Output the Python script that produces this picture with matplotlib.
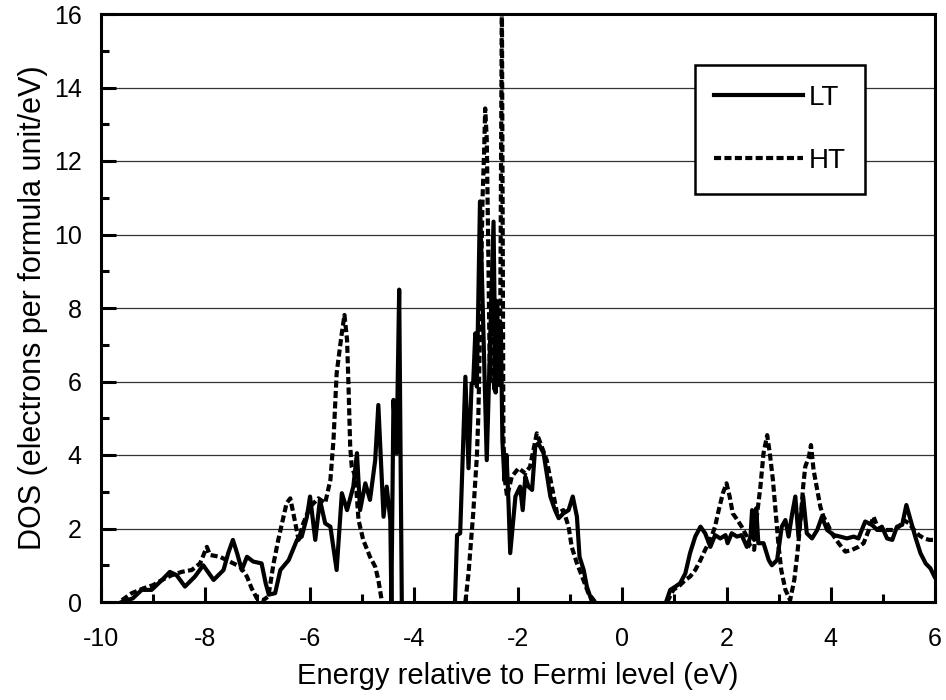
import numpy as np
import matplotlib
matplotlib.use("Agg")
import matplotlib.pyplot as plt
from matplotlib.ticker import MultipleLocator

# LT phase, energy (eV) and DOS
lt_energy = [-9.60, -9.39, -9.22, -9.03, -8.83, -8.68, -8.55, -8.39, -8.20, -8.04,
             -7.84, -7.65, -7.56, -7.47, -7.39, -7.30, -7.20, -7.08, -6.92, -6.84,
             -6.78, -6.66, -6.56, -6.40, -6.24, -6.15, -6.05, -5.99, -5.89, -5.80,
             -5.70, -5.60, -5.48, -5.38, -5.28, -5.16, -5.09, -5.03, -4.93, -4.84,
             -4.74, -4.68, -4.58, -4.52, -4.45, -4.43, -4.39, -4.33, -4.28, -4.23,
             -3.21, -3.17, -3.11, -3.01, -2.95, -2.89, -2.86, -2.82, -2.79, -2.73,
             -2.60, -2.47, -2.43, -2.40, -2.36, -2.33, -2.30, -2.26, -2.22, -2.18,
             -2.15, -2.05, -1.96, -1.91, -1.86, -1.80, -1.73, -1.67, -1.61, -1.51,
             -1.38, -1.29, -1.22, -1.13, -1.03, -0.95, -0.87, -0.82, -0.74, -0.68,
             -0.58, 0.84, 0.92, 1.02, 1.11, 1.21, 1.30, 1.40, 1.50, 1.59,
             1.69, 1.78, 1.88, 1.98, 2.02, 2.10, 2.20, 2.29, 2.39, 2.46,
             2.49, 2.53, 2.57, 2.61, 2.71, 2.81, 2.87, 2.97, 3.06, 3.13,
             3.19, 3.26, 3.32, 3.38, 3.47, 3.54, 3.64, 3.74, 3.83, 3.93,
             4.06, 4.18, 4.31, 4.44, 4.53, 4.66, 4.79, 4.89, 4.98, 5.08,
             5.18, 5.27, 5.37, 5.45, 5.53, 5.62, 5.72, 5.82, 5.91, 5.99]
lt_dos = [0.00, 0.10, 0.33, 0.33, 0.60, 0.82, 0.73, 0.42, 0.69, 1.00,
          0.60, 0.87, 1.33, 1.69, 1.33, 0.87, 1.23, 1.10, 1.05, 0.50,
          0.20, 0.24, 0.87, 1.14, 1.69, 1.78, 2.32, 2.87, 1.69, 2.78,
          2.14, 2.05, 0.87, 2.96, 2.50, 3.14, 4.05, 2.50, 3.23, 2.78,
          3.86, 5.36, 2.32, 3.14, 2.23, 0.00, 5.50, 4.05, 8.50, 0.00,
          0.00, 1.82, 1.87, 6.13, 3.64, 5.95, 5.96, 7.31, 5.86, 10.90,
          3.86, 10.35, 5.70, 8.10, 5.90, 7.60, 4.40, 3.30, 4.00, 2.60,
          1.33, 2.87, 3.14, 2.50, 3.41, 3.14, 3.05, 4.23, 4.32, 4.05,
          2.87, 2.50, 2.28, 2.41, 2.50, 2.87, 2.32, 1.23, 0.87, 0.42,
          0.00, 0.00, 0.33, 0.42, 0.51, 0.78, 1.33, 1.78, 2.05, 1.87,
          1.50, 1.82, 1.73, 1.82, 1.60, 1.87, 1.78, 1.82, 1.50, 1.78,
          2.50, 1.69, 2.55, 1.60, 1.60, 1.14, 1.00, 1.14, 2.05, 2.23,
          1.78, 2.41, 2.87, 1.78, 2.87, 1.87, 1.73, 1.96, 2.32, 1.96,
          1.82, 1.78, 1.73, 1.78, 1.73, 2.19, 2.10, 1.96, 2.05, 1.73,
          1.69, 2.05, 2.10, 2.64, 2.23, 1.78, 1.33, 1.05, 0.92, 0.69]

# HT phase
ht_energy = [-9.60, -9.41, -9.19, -9.00, -8.83, -8.64, -8.45, -8.26, -8.10, -7.97,
             -7.91, -7.72, -7.59, -7.33, -7.20, -7.11, -7.01, -6.89, -6.79, -6.69,
             -6.60, -6.50, -6.44, -6.37, -6.31, -6.21, -6.12, -5.99, -5.83, -5.70,
             -5.60, -5.54, -5.48, -5.39, -5.33, -5.28, -5.25, -5.22, -5.19, -5.12,
             -5.06, -4.97, -4.84, -4.74, -4.68, -4.61, -3.01, -2.95, -2.86, -2.79,
             -2.76, -2.72, -2.68, -2.65, -2.63, -2.60, -2.57, -2.54, -2.50, -2.46,
             -2.42, -2.38, -2.34, -2.31, -2.28, -2.25, -2.21, -2.12, -1.99, -1.86,
             -1.77, -1.64, -1.57, -1.45, -1.35, -1.25, -1.13, -1.03, -0.97, -0.87,
             -0.77, -0.65, -0.52, 0.86, 0.98, 1.11, 1.21, 1.30, 1.40, 1.50,
             1.59, 1.69, 1.78, 1.85, 1.93, 2.00, 2.06, 2.12, 2.21, 2.29,
             2.39, 2.46, 2.53, 2.58, 2.65, 2.71, 2.78, 2.83, 2.89, 2.94,
             3.00, 3.05, 3.13, 3.22, 3.30, 3.36, 3.42, 3.47, 3.51, 3.58,
             3.62, 3.67, 3.74, 3.80, 3.86, 3.93, 4.02, 4.15, 4.28, 4.41,
             4.53, 4.63, 4.73, 4.82, 4.92, 5.02, 5.11, 5.21, 5.31, 5.40,
             5.50, 5.60, 5.69, 5.79, 5.89, 5.98]
ht_dos = [0.05, 0.24, 0.37, 0.46, 0.60, 0.73, 0.82, 0.87, 1.05, 1.50,
          1.28, 1.23, 1.14, 0.96, 0.69, 0.37, 0.10, 0.05, 0.15, 1.05,
          1.69, 2.32, 2.69, 2.82, 2.41, 1.69, 2.14, 2.59, 2.82, 2.69,
          3.32, 4.41, 6.22, 7.22, 7.81, 7.13, 5.77, 4.23, 3.68, 3.41,
          2.23, 1.69, 1.23, 0.96, 0.60, 0.00, 0.00, 0.78, 2.41, 3.95,
          5.13, 8.00, 11.00, 12.30, 13.43, 12.60, 9.50, 6.00, 8.50, 5.80,
          8.20, 6.50, 8.00, 16.50, 4.40, 3.30, 2.87, 3.41, 3.64, 3.50,
          3.68, 4.59, 4.32, 3.86, 3.14, 2.41, 2.50, 2.05, 1.50, 1.05,
          0.69, 0.24, 0.00, 0.00, 0.33, 0.46, 0.60, 0.69, 0.87, 1.14,
          1.42, 1.69, 2.05, 2.50, 2.96, 3.23, 2.87, 2.41, 2.23, 2.05,
          1.78, 1.50, 1.42, 2.32, 3.14, 4.05, 4.54, 4.05, 3.32, 2.50,
          1.50, 0.87, 0.33, 0.05, 0.60, 1.33, 2.23, 3.14, 3.68, 3.95,
          4.27, 3.59, 3.05, 2.59, 2.32, 2.14, 1.87, 1.60, 1.37, 1.42,
          1.50, 1.60, 1.96, 2.32, 1.96, 1.96, 1.96, 1.96, 2.05, 2.23,
          2.14, 1.96, 1.82, 1.73, 1.69, 1.69]

labels = ["LT", "HT"]


def break_flat(x, y):
    # no line along the axis where the DOS stays at zero
    xs, ys = [x[0]], [y[0]]
    for i in range(1, len(x)):
        if y[i] == 0 and y[i - 1] == 0:
            xs.append(np.nan)
            ys.append(np.nan)
        xs.append(x[i])
        ys.append(y[i])
    return np.array(xs), np.array(ys)


plt.rcParams["font.family"] = ["Liberation Sans", "DejaVu Sans"]
plt.rcParams["axes.unicode_minus"] = False

fig = plt.figure(figsize=(9.46, 7.0), dpi=100)
ax = fig.add_axes([0.1068, 0.14, 0.8816, 0.84])

x, y = break_flat(lt_energy, lt_dos)
ax.plot(x, y, color="black", lw=3.0, label=labels[0], zorder=3)
x, y = break_flat(ht_energy, ht_dos)
ax.plot(x, y, color="black", lw=3.0, linestyle=(0, (1.7, 0.8)),
        label=labels[1], zorder=3)

ax.set_xlim(-10, 6)
ax.set_ylim(0, 16)
ax.xaxis.set_major_locator(MultipleLocator(2))
ax.xaxis.set_minor_locator(MultipleLocator(1))
ax.yaxis.set_major_locator(MultipleLocator(2))
ax.yaxis.set_minor_locator(MultipleLocator(1))

ax.yaxis.grid(True, which="major", color="#333333", lw=0.9)
ax.set_axisbelow(True)

ax.tick_params(which="both", direction="in", width=2.2, labelsize=18,
               top=False, right=False)
ax.tick_params(which="major", length=11)
ax.tick_params(which="minor", length=6)
ax.tick_params(axis="y", pad=14)
ax.tick_params(axis="x", pad=18)

for sp in ax.spines.values():
    sp.set_linewidth(2.2)
    sp.set_zorder(4)

ax.set_xlabel("Energy relative to Fermi level (eV)", fontsize=21, labelpad=8)
ax.set_ylabel("DOS (electrons per formula unit/eV)", fontsize=22, labelpad=4)

leg = ax.legend(loc="upper right", bbox_to_anchor=(0.916, 0.913),
                borderaxespad=0, fontsize=20, handlelength=3.2,
                labelspacing=1.35, borderpad=0.7, handletextpad=0.2,
                fancybox=False, framealpha=1, edgecolor="black")
leg.get_frame().set_linewidth(1.8)

fig.savefig("out.png", dpi=100)
